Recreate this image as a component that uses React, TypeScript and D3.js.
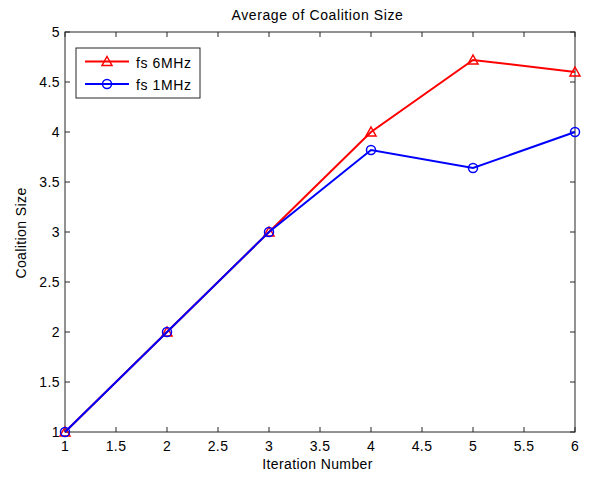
import React from "react";
import * as d3 from "d3";

const iterations = [1, 2, 3, 4, 5, 6];
const fs6MHz = [1, 2, 3, 4, 4.72, 4.6];
const fs1MHz = [1, 2, 3, 3.82, 3.64, 4.0];
const xTicks = [1, 1.5, 2, 2.5, 3, 3.5, 4, 4.5, 5, 5.5, 6];
const yTicks = [1, 1.5, 2, 2.5, 3, 3.5, 4, 4.5, 5];
const seriesNames = ["fs 6MHz", "fs 1MHz"];

const W = 589, H = 477;
const L = 65, R = 575, T = 32, B = 432;
const font = "Liberation Sans, Arial, sans-serif";
const axisColor = "#262626";
const fs = 14;
const ls = 0.4;

export default function App() {
  const x = d3.scaleLinear().domain([1, 6]).range([L, R]);
  const y = d3.scaleLinear().domain([1, 5]).range([B, T]);
  const line = d3.line<number>().x((_, i) => x(iterations[i])).y((d) => y(d));
  const tri = (cx: number, cy: number, s = 5) =>
    `M${cx},${cy - s} L${cx + s},${cy + s * 0.8} L${cx - s},${cy + s * 0.8} Z`;

  return (
    <svg width={W} height={H} style={{ position: "absolute", left: 0, top: 0, background: "#fff" }}>
      <rect x={0} y={0} width={W} height={H} fill="#fff" />
      <text x={317.5} y={19.5} textAnchor="middle" fontFamily={font} fontSize={fs} letterSpacing={0.6} fill="#000">
        Average of Coalition Size
      </text>
      {/* ticks */}
      {xTicks.map((t) => (
        <g key={"x" + t}>
          <line x1={x(t)} x2={x(t)} y1={B} y2={B - 5} stroke={axisColor} />
          <line x1={x(t)} x2={x(t)} y1={T} y2={T + 5} stroke={axisColor} />
          <text x={x(t)} y={451} textAnchor="middle" fontFamily={font} fontSize={fs} letterSpacing={ls} fill="#000">
            {t}
          </text>
        </g>
      ))}
      {yTicks.map((t) => (
        <g key={"y" + t}>
          <line x1={L} x2={L + 5} y1={y(t)} y2={y(t)} stroke={axisColor} />
          <line x1={R} x2={R - 5} y1={y(t)} y2={y(t)} stroke={axisColor} />
          <text x={L - 5} y={y(t) + 5} textAnchor="end" fontFamily={font} fontSize={fs} letterSpacing={ls} fill="#000">
            {t}
          </text>
        </g>
      ))}
      <rect x={L} y={T} width={R - L} height={B - T} fill="none" stroke={axisColor} strokeWidth={1} />
      <text x={317.5} y={469} textAnchor="middle" fontFamily={font} fontSize={fs} letterSpacing={ls} fill="#000">
        Iteration Number
      </text>
      <text
        transform={`translate(26,233) rotate(-90)`}
        textAnchor="middle"
        fontFamily={font}
        fontSize={fs}
        letterSpacing={ls}
        fill="#000"
      >
        Coalition Size
      </text>
      {/* series */}
      <path d={line(fs6MHz) || ""} fill="none" stroke="#ff0000" strokeWidth={2} />
      {fs6MHz.map((v, i) => (
        <path key={"r" + i} d={tri(x(iterations[i]), y(v))} fill="none" stroke="#ff0000" strokeWidth={1.5} />
      ))}
      <path d={line(fs1MHz) || ""} fill="none" stroke="#0000ff" strokeWidth={2} />
      {fs1MHz.map((v, i) => (
        <circle key={"b" + i} cx={x(iterations[i])} cy={y(v)} r={4.5} fill="none" stroke="#0000ff" strokeWidth={1.5} />
      ))}
      {/* legend */}
      <rect x={76} y={48} width={124} height={50} fill="#fff" stroke={axisColor} strokeWidth={1} />
      <line x1={85} x2={129} y1={61.5} y2={61.5} stroke="#ff0000" strokeWidth={2} />
      <path d={tri(107, 61.5)} fill="none" stroke="#ff0000" strokeWidth={1.5} />
      <text x={136} y={67.5} fontFamily={font} fontSize={fs} letterSpacing={0.6} fill="#000">{seriesNames[0]}</text>
      <line x1={85} x2={129} y1={84} y2={84} stroke="#0000ff" strokeWidth={2} />
      <circle cx={107} cy={84} r={4.5} fill="none" stroke="#0000ff" strokeWidth={1.5} />
      <text x={136} y={90} fontFamily={font} fontSize={fs} letterSpacing={0.6} fill="#000">{seriesNames[1]}</text>
    </svg>
  );
}
